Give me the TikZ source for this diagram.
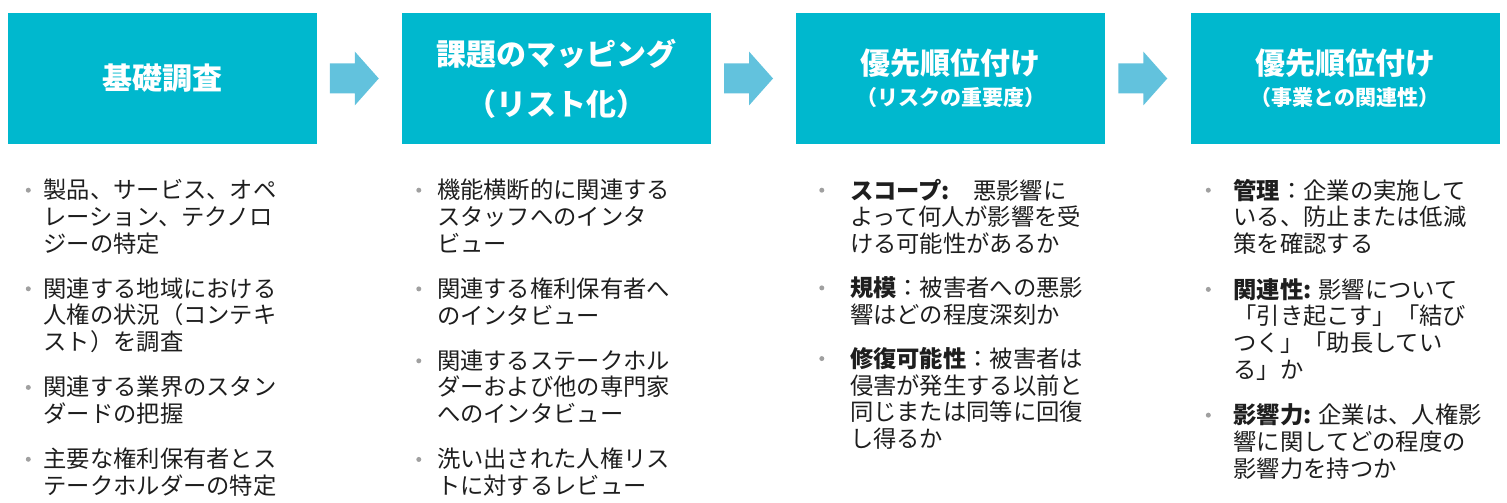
\documentclass[tikz,border=0pt]{standalone}
\usepackage{fontspec}
\setmainfont{Noto Sans CJK JP}
\usetikzlibrary{calc}
\usetikzlibrary{positioning}

\definecolor{boxcyan}{RGB}{0,184,206}
\definecolor{flowblue}{RGB}{98,194,221}
\definecolor{dotgray}{RGB}{160,160,160}
\definecolor{textgray}{RGB}{30,30,30}

\begin{document}
\begin{tikzpicture}[
        x=1pt, y=1pt,
        box/.style={fill=boxcyan, text=white, minimum width=309pt, minimum height=131pt,
            inner sep=0pt, align=center, font=\bfseries\fontsize{30}{50}\selectfont},
        item/.style={inner sep=0pt, align=left, text=textgray,
            font=\fontsize{23.3}{26.8}\selectfont, execute at end node=\strut},
        dot/.style={circle, fill=dotgray, inner sep=0pt, minimum size=5pt},
        flow/.style={fill=flowblue}
    ]
        \useasboundingbox (0,0) rectangle (1507,503);

        % steps
        \node[box] (b1) at (162,424.5) {基礎調査};
        \node[box] (b2) at (556.5,424.5) {課題のマッピング\\（リスト化）};
        \node[box] (b3) at (950.5,424.5) {優先順位付け\\[-19pt]{\fontsize{21}{29}\selectfont （リスクの重要度）}};
        \node[box] (b4) at (1345,424.5) {優先順位付け\\[-19pt]{\fontsize{21}{29}\selectfont （事業との関連性）}};

        % arrows between the steps
        \coordinate (a1) at ($(b1.east)!0.5!(b2.west)+(-5,0)$);
        \coordinate (a2) at ($(b2.east)!0.5!(b3.west)+(-5,0)$);
        \coordinate (a3) at ($(b3.east)!0.5!(b4.west)+(-5,0)$);
        \fill[flow] (a1) ++(-24.5,-15) -- ++(25,0) -- ++(0,-12) -- ++(24,27) -- ++(-24,27) -- ++(0,-12) -- ++(-25,0) -- cycle;
        \fill[flow] (a2) ++(-24.5,-15) -- ++(25,0) -- ++(0,-12) -- ++(24,27) -- ++(-24,27) -- ++(0,-12) -- ++(-25,0) -- cycle;
        \fill[flow] (a3) ++(-24.5,-15) -- ++(25,0) -- ++(0,-12) -- ++(24,27) -- ++(-24,27) -- ++(0,-12) -- ++(-25,0) -- cycle;

        % column 1
        \node[item, below right=34.5pt and 36pt of b1.south west] (i11) {製品、サービス、オペ\\レーション、テクノロ\\ジーの特定};
        \node[item, below right=17pt and 0pt of i11.south west] (i12) {関連する地域における\\人権の状況（コンテキ\\スト）を調査};
        \node[item, below right=17pt and 0pt of i12.south west] (i13) {関連する業界のスタン\\ダードの把握};
        \node[item, below right=17pt and 0pt of i13.south west] (i14) {主要な権利保有者とス\\テークホルダーの特定};
        \node[dot] (p11) at ($(i11.north west)+(-15,-11.5)$) {};
        \node[dot] (p12) at ($(i12.north west)+(-15,-11.5)$) {};
        \node[dot] (p13) at ($(i13.north west)+(-15,-11.5)$) {};
        \node[dot] (p14) at ($(i14.north west)+(-15,-11.5)$) {};

        % column 2
        \node[item, below right=34.5pt and 35pt of b2.south west] (i21) {機能横断的に関連する\\スタッフへのインタ\\ビュー};
        \node[item, below right=17pt and 0pt of i21.south west] (i22) {関連する権利保有者へ\\のインタビュー};
        \node[item, below right=17pt and 0pt of i22.south west] (i23) {関連するステークホル\\ダーおよび他の専門家\\へのインタビュー};
        \node[item, below right=17pt and 0pt of i23.south west] (i24) {洗い出された人権リス\\トに対するレビュー};
        \node[dot] (p21) at ($(i21.north west)+(-18,-11.5)$) {};
        \node[dot] (p22) at ($(i22.north west)+(-18,-11.5)$) {};
        \node[dot] (p23) at ($(i23.north west)+(-18,-11.5)$) {};
        \node[dot] (p24) at ($(i24.north west)+(-18,-11.5)$) {};

        % column 3
        \node[item, below right=34.5pt and 54pt of b3.south west] (i31) {\textbf{スコープ:}　悪影響に\\よって何人が影響を受\\ける可能性があるか};
        \node[item, below right=15.5pt and 0pt of i31.south west] (i32) {\textbf{規模}：被害者への悪影\\響はどの程度深刻か};
        \node[item, below right=15.5pt and 0pt of i32.south west] (i33) {\textbf{修復可能性}：被害者は\\侵害が発生する以前と\\同じまたは同等に回復\\し得るか};
        \node[dot] (p31) at ($(i31.north west)+(-28,-11.5)$) {};
        \node[dot] (p32) at ($(i32.north west)+(-28,-11.5)$) {};
        \node[dot] (p33) at ($(i33.north west)+(-28,-11.5)$) {};

        % column 4
        \node[item, below right=34.5pt and 43pt of b4.south west] (i41) {\textbf{管理}：企業の実施して\\いる、防止または低減\\策を確認する};
        \node[item, below right=17pt and 0pt of i41.south west] (i42) {\textbf{関連性:} 影響について\\「引き起こす」「結び\\つく」「助長してい\\る」か};
        \node[item, below right=17pt and 0pt of i42.south west] (i43) {\textbf{影響力:} 企業は、人権影\\響に関してどの程度の\\影響力を持つか};
        \node[dot] (p41) at ($(i41.north west)+(-25,-11.5)$) {};
        \node[dot] (p42) at ($(i42.north west)+(-25,-11.5)$) {};
        \node[dot] (p43) at ($(i43.north west)+(-25,-11.5)$) {};
    \end{tikzpicture}
\end{document}
